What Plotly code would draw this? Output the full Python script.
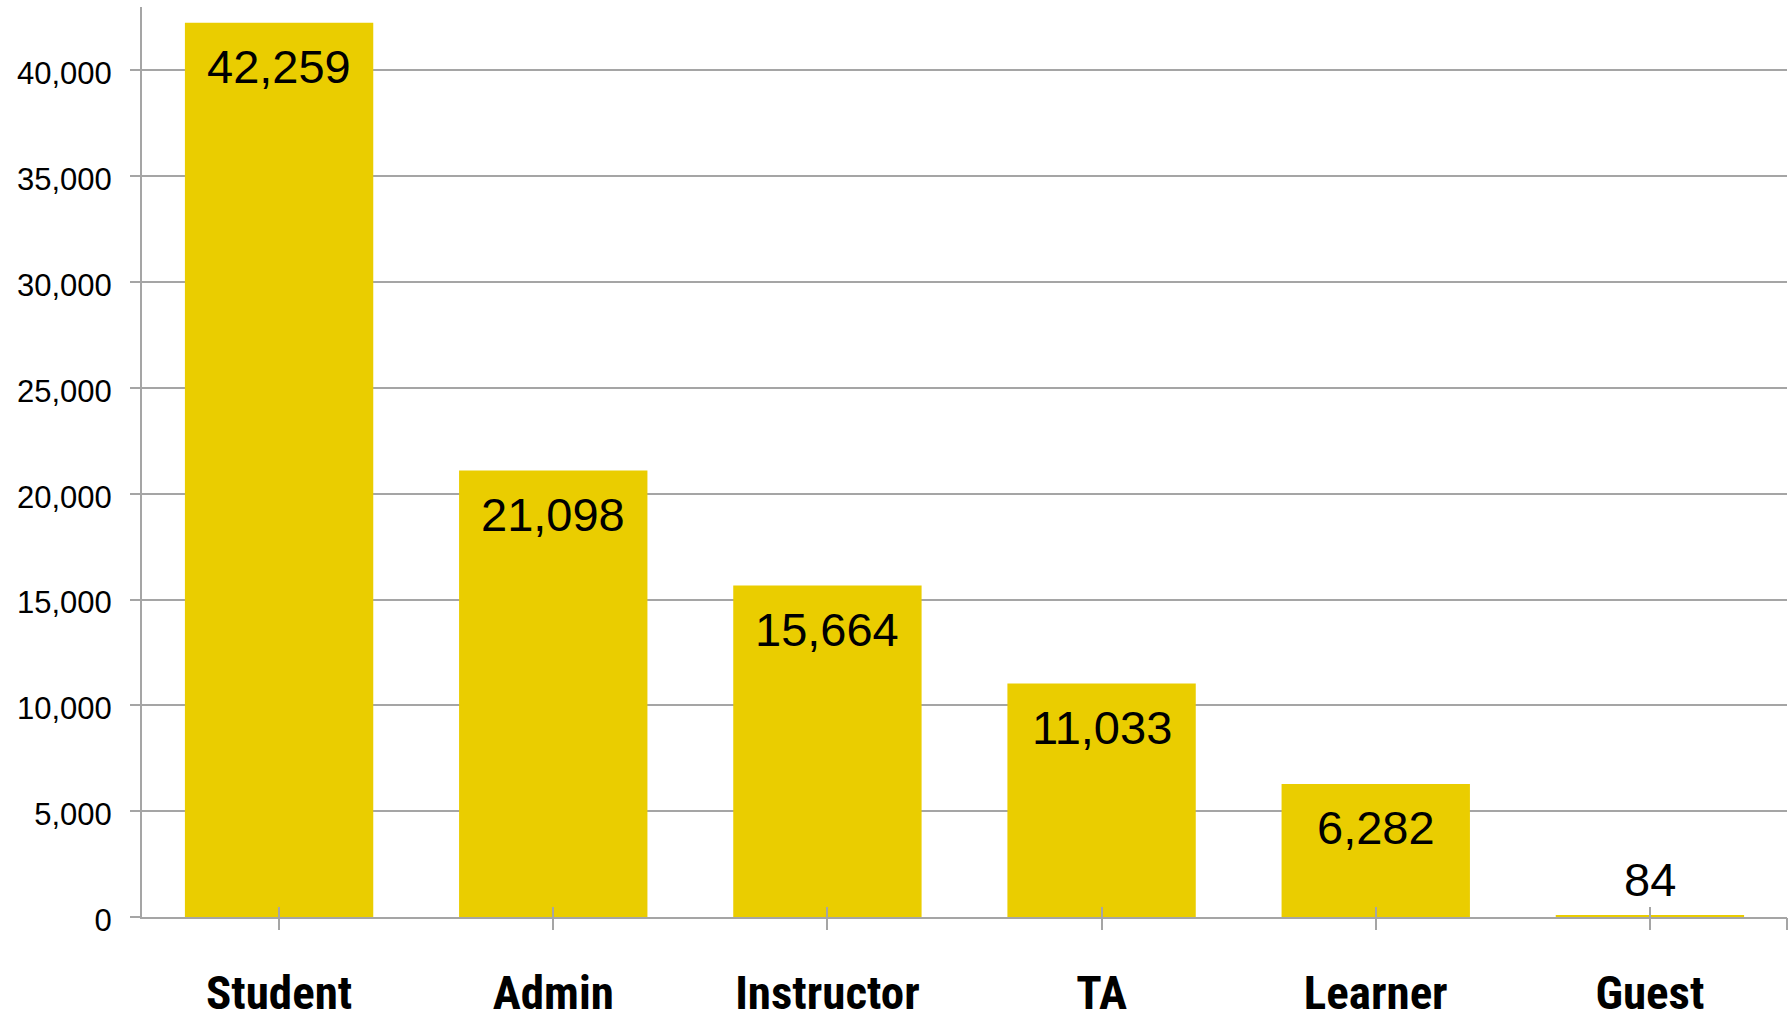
import plotly.graph_objects as go

categories = ["Student", "Admin", "Instructor", "TA", "Learner", "Guest"]
values = [42259, 21098, 15664, 11033, 6282, 84]
y_tick_values = [0, 5000, 10000, 15000, 20000, 25000, 30000, 35000, 40000]
y_tick_labels = ["0", "5,000", "10,000", "15,000", "20,000", "25,000", "30,000", "35,000", "40,000"]

BAR = "#EACD00"
GRID = "#A5A5A5"

fig = go.Figure()
fig.add_trace(go.Bar(x=categories, y=values, marker=dict(color=BAR, line=dict(width=0)),
                     hoverinfo="skip", showlegend=False))

n = len(categories)
idx_ticks = list(range(n)) + [n - 0.5]

# empty helper traces so the overlay tick axes get drawn
fig.add_trace(go.Scatter(x=[], y=[], xaxis="x2", yaxis="y", showlegend=False, hoverinfo="skip"))
fig.add_trace(go.Scatter(x=[], y=[], xaxis="x3", yaxis="y", showlegend=False, hoverinfo="skip"))

annotations = []
for c, v in zip(categories, values):
    inside = v > 3000
    annotations.append(dict(
        x=c, y=v, xref="x", yref="y", text=f"{v:,}", showarrow=False,
        yanchor="top" if inside else "bottom",
        yshift=-15 if inside else 7,
        font=dict(family="Liberation Sans, Arial, Helvetica", size=47, color="black"),
    ))

fig.update_layout(
    width=1788, height=1016,
    margin=dict(l=142, r=1, t=7, b=99, pad=0),
    paper_bgcolor="white", plot_bgcolor="white",
    bargap=0.313,
    annotations=annotations,
    xaxis=dict(
        type="category", categoryorder="array", categoryarray=categories,
        range=[-0.5, n - 0.5], automargin=False,
        showline=True, linecolor=GRID, linewidth=2,
        ticks="", showgrid=False, zeroline=False,
        tickfont=dict(family="Roboto Condensed, Liberation Sans Narrow, Liberation Sans, sans-serif",
                      size=47, color="black", weight="bold"),
        ticklabelstandoff=34,
    ),
    xaxis2=dict(
        overlaying="x", anchor="y", range=[-0.5, n - 0.5], automargin=False,
        tickvals=idx_ticks, ticks="outside", ticklen=12, tickwidth=2, tickcolor=GRID,
        showticklabels=False, showgrid=False, zeroline=False, showline=False,
    ),
    xaxis3=dict(
        overlaying="x", anchor="y", range=[-0.5, n - 0.5], automargin=False,
        tickvals=idx_ticks, ticks="inside", ticklen=10, tickwidth=2, tickcolor=GRID,
        showticklabels=False, showgrid=False, zeroline=False, showline=False,
    ),
    yaxis=dict(
        range=[0, 43000], tickvals=y_tick_values, ticktext=y_tick_labels, automargin=False,
        showline=True, linecolor=GRID, linewidth=2,
        ticks="outside", ticklen=10, tickwidth=2, tickcolor=GRID,
        showgrid=True, gridcolor=GRID, gridwidth=2, zeroline=False,
        tickfont=dict(family="Liberation Sans, Arial, Helvetica", size=31, color="black"),
        ticklabelstandoff=12, ticklabelshift=3,
    ),
)

fig.write_html("out.html", config={"displayModeBar": False},
               post_script="document.body.style.margin='0';document.body.style.overflow='hidden';")
